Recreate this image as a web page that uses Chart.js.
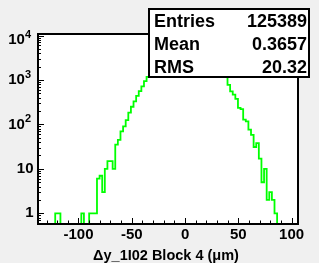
<!DOCTYPE html>
<html>
<head>
<meta charset="utf-8">
<script src="https://cdn.jsdelivr.net/npm/chart.js@4/dist/chart.umd.min.js"></script>
<style>
  html, body { margin: 0; padding: 0; background: #f0f0f0; }
  canvas { display: block; }
</style>
</head>
<body>
<canvas id="histo" width="319" height="263"></canvas>
<script>
// ===============================
// Data
// ===============================
const binLow = -139;
const binWidth = 2.45;

// bin contents, 100 bins starting at binLow
const counts = [
  0, 0, 0, 0, 0, 0, 0, 1, 1, 0,
  0, 0, 0, 0, 0, 0, 0, 1, 0, 0,
  1, 1, 1, 6, 7, 3, 10, 15, 15, 10,
  35, 45, 70, 90, 125, 185, 250, 330, 440, 560,
  720, 940, 1180, 1450, 1800, 2200, 2650, 3150, 3700, 4250,
  4800, 5300, 5750, 6100, 6350, 6500, 6550, 6500, 6350, 6100,
  5750, 5300, 4800, 4250, 3700, 3150, 2650, 2200, 1850, 1600,
  1400, 1250, 1300, 780, 556, 467, 375, 235, 220, 128,
  117, 76, 58, 31, 38, 17, 5, 10, 2, 3,
  2, 1, 0, 0, 0, 0, 0, 0, 0, 0,
];

const xMajorTicks = [-100, -50, 0, 50, 100];
const xTickLabels = ["-100", "-50", "0", "50", "100"];
const yMajorTicks = [1, 10, 100, 1000, 10000];
const yTickBase = ["1", "10", "10", "10", "10"];
const yTickExp = ["", "", "2", "3", "4"];

const statNames = ["Entries", "Mean", "RMS"];
const statValues = ["125389", "0.3657", "20.32"];
const axisTitle = "Δy_1I02 Block 4 (μm)";

// ===============================
// Build step points
// ===============================
const points = counts.map((c, i) => ({ x: binLow + i * binWidth, y: c > 0 ? c : 0.1 }));
points.push({ x: binLow + counts.length * binWidth, y: 0.1 });

const FONT = '"Liberation Sans", Arial, sans-serif';

// ===============================
// ROOT look: frame, inward ticks, labels, stats box
// ===============================
const rootStyle = {
  id: "rootStyle",
  beforeDraw(chart) {
    const { ctx, chartArea: a } = chart;
    ctx.save();
    ctx.fillStyle = "#f0f0f0";
    ctx.fillRect(0, 0, chart.width, chart.height);
    ctx.fillStyle = "#ffffff";
    ctx.fillRect(a.left, a.top, a.right - a.left, a.bottom - a.top);
    ctx.restore();
  },
  afterDatasetsDraw(chart) {
    const { ctx, chartArea: a } = chart;
    const xs = chart.scales.x;
    const ys = chart.scales.y;
    ctx.save();
    ctx.strokeStyle = "#000";
    ctx.fillStyle = "#000";

    // ticks on x axis (inside, pointing up)
    ctx.lineWidth = 1;
    ctx.beginPath();
    for (let v = -130; v <= 100; v += 10) {
      const px = Math.round(xs.getPixelForValue(v)) + 0.5;
      const len = v % 50 === 0 ? 6 : 3.5;
      ctx.moveTo(px, a.bottom);
      ctx.lineTo(px, a.bottom - len);
    }
    // ticks on y axis (inside, pointing right)
    for (let d = -1; d <= 4; d++) {
      for (let k = 1; k <= 9; k++) {
        const v = k * Math.pow(10, d);
        if (v < ys.min || v > ys.max) continue;
        const py = Math.round(ys.getPixelForValue(v)) + 0.5;
        const len = k === 1 ? 6 : 3;
        ctx.moveTo(a.left, py);
        ctx.lineTo(a.left + len, py);
      }
    }
    ctx.stroke();

    // frame
    ctx.lineWidth = 2;
    ctx.strokeRect(a.left, a.top, a.right - a.left, a.bottom - a.top);

    // x tick labels
    ctx.font = "bold 15px " + FONT;
    ctx.textAlign = "center";
    ctx.textBaseline = "alphabetic";
    xMajorTicks.forEach((v, i) => {
      ctx.fillText(xTickLabels[i], xs.getPixelForValue(v), 239);
    });

    // y tick labels
    ctx.textBaseline = "middle";
    yMajorTicks.forEach((v, i) => {
      const py = Math.max(ys.getPixelForValue(v), a.top + 6);
      if (!yTickExp[i]) {
        ctx.font = "bold 15px " + FONT;
        ctx.textAlign = "right";
        ctx.fillText(yTickBase[i], 33.5, py);
      } else {
        ctx.font = "bold 11px " + FONT;
        ctx.textAlign = "right";
        const w = ctx.measureText(yTickExp[i]).width;
        ctx.fillText(yTickExp[i], 31, py - 5);
        ctx.font = "bold 15px " + FONT;
        ctx.fillText(yTickBase[i], 31 - w, py);
      }
    });

    // axis title
    ctx.font = "bold 14.5px " + FONT;
    ctx.textAlign = "center";
    ctx.textBaseline = "alphabetic";
    ctx.fillText(axisTitle, 166, 259.5);

    // stats box
    ctx.fillStyle = "#fff";
    ctx.fillRect(149, 9, 160, 68);
    ctx.lineWidth = 2;
    ctx.strokeRect(149, 9, 160, 68);
    ctx.fillStyle = "#000";
    ctx.font = "bold 18px " + FONT;
    statNames.forEach((name, i) => {
      const by = 26.5 + i * 23;
      ctx.textAlign = "left";
      ctx.fillText(name, 154, by);
      ctx.textAlign = "right";
      ctx.fillText(statValues[i], 307, by);
    });
    ctx.restore();
  },
};

// ===============================
// Chart
// ===============================
new Chart(document.getElementById("histo"), {
  type: "line",
  data: {
    datasets: [
      {
        data: points,
        stepped: true,
        borderColor: "#00ff00",
        borderWidth: 1.8,
        pointRadius: 0,
        fill: false,
        clip: 0,
      },
    ],
  },
  options: {
    responsive: false,
    animation: false,
    events: [],
    layout: { padding: { left: 0, right: 21, top: 34, bottom: 0 } },
    scales: {
      x: {
        type: "linear",
        min: -138,
        max: 106,
        grid: { display: false },
        border: { display: false },
        ticks: { display: false },
        afterFit: (s) => { s.height = 39; },
      },
      y: {
        type: "logarithmic",
        min: 0.574,
        max: 10840,
        grid: { display: false },
        border: { display: false },
        ticks: { display: false },
        afterFit: (s) => { s.width = 38; },
      },
    },
    plugins: {
      legend: { display: false },
      tooltip: { enabled: false },
    },
  },
  plugins: [rootStyle],
});
</script>
</body>
</html>
